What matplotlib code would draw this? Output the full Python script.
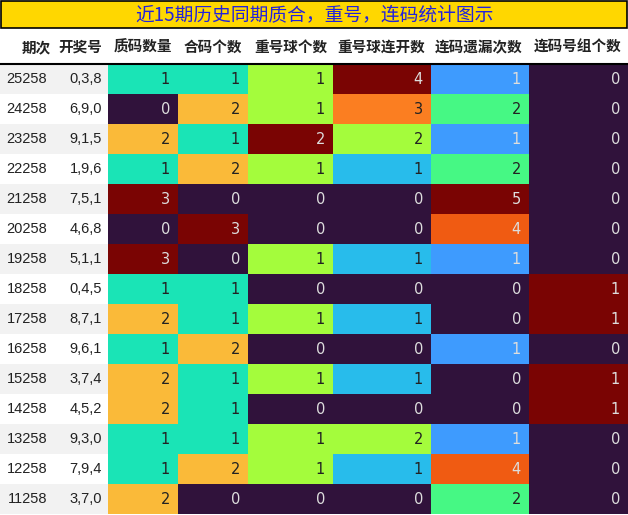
import matplotlib
matplotlib.use("Agg")
import matplotlib.pyplot as plt
from matplotlib.patches import Rectangle
from matplotlib.colors import Normalize
import numpy as np

plt.rcParams['font.family'] = ['Noto Sans CJK SC', 'DejaVu Sans']

title = "近15期历史同期质合，重号，连码统计图示"
headers = ["期次", "开奖号", "质码数量", "合码个数", "重号球个数", "重号球连开数", "连码遗漏次数", "连码号组个数"]
periods = ["25258","24258","23258","22258","21258","20258","19258","18258","17258","16258","15258","14258","13258","12258","11258"]
draws = ["0,3,8","6,9,0","9,1,5","1,9,6","7,5,1","4,6,8","5,1,1","0,4,5","8,7,1","9,6,1","3,7,4","4,5,2","9,3,0","7,9,4","3,7,0"]
prime_cnt = [1,0,2,1,3,0,3,1,2,1,2,2,1,1,2]
comp_cnt = [1,2,1,2,0,3,0,1,1,2,1,1,1,2,0]
repeat_cnt = [1,1,2,1,0,0,1,0,1,0,1,0,1,1,0]
repeat_run = [4,3,2,1,0,0,1,0,1,0,1,0,2,1,0]
consec_miss = [1,2,1,2,5,4,1,0,0,1,0,0,1,4,2]
consec_groups = [0,0,0,0,0,0,0,1,1,0,1,1,0,0,0]
series = [prime_cnt, comp_cnt, repeat_cnt, repeat_run, consec_miss, consec_groups]

W, H = 628, 515
fig = plt.figure(figsize=(W/100, H/100), dpi=100)
ax = fig.add_axes([0, 0, 1, 1])
ax.set_xlim(0, W); ax.set_ylim(H, 0); ax.axis('off')

edges = [0, 57, 108, 178, 248, 333, 431, 529, 628]
top_rows = 64; rh = 30
cmap = plt.get_cmap('turbo')

# title
ax.add_patch(Rectangle((0.5, 0.5), W-1.5, 27, facecolor='#ffd700', edgecolor='black', lw=1.2))
ax.text(W/2, 15, title, ha='center', va='center', fontsize=13.5, color='#2222dd')

# headers
for i, h in enumerate(headers):
    ax.text(edges[i+1]-6, 47, h, ha='right', va='center', fontsize=10.5, fontweight='bold', color='#222222')

for r in range(len(periods)):
    y0 = top_rows + r*rh
    bg = '#f2f2f2' if r % 2 == 0 else 'white'
    ax.add_patch(Rectangle((0, y0), edges[2], rh, facecolor=bg, edgecolor='none'))
    ax.text(edges[1]-10, y0+rh/2, periods[r], ha='right', va='center', fontsize=10.5, family=['Liberation Sans'], color='#222222')
    ax.text(edges[2]-6, y0+rh/2, draws[r], ha='right', va='center', fontsize=10.5, family=['Liberation Sans'], color='#222222')

for c, vals in enumerate(series):
    norm = Normalize(min(vals), max(vals))
    for r, v in enumerate(vals):
        y0 = top_rows + r*rh
        col = cmap(norm(v))
        ax.add_patch(Rectangle((edges[c+2], y0), edges[c+3]-edges[c+2], rh, facecolor=col, edgecolor='none'))
        lum = 0.299*col[0] + 0.587*col[1] + 0.114*col[2]
        tc = '#222222' if lum > 0.55 else '#dddddd'
        ax.text(edges[c+3]-8, y0+rh/2, str(v), ha='right', va='center', fontsize=10.5, family=['DejaVu Sans'], color=tc)

ax.plot([0, W], [top_rows-0.5, top_rows-0.5], color='black', lw=1.5)
fig.savefig('out.png', dpi=100)
